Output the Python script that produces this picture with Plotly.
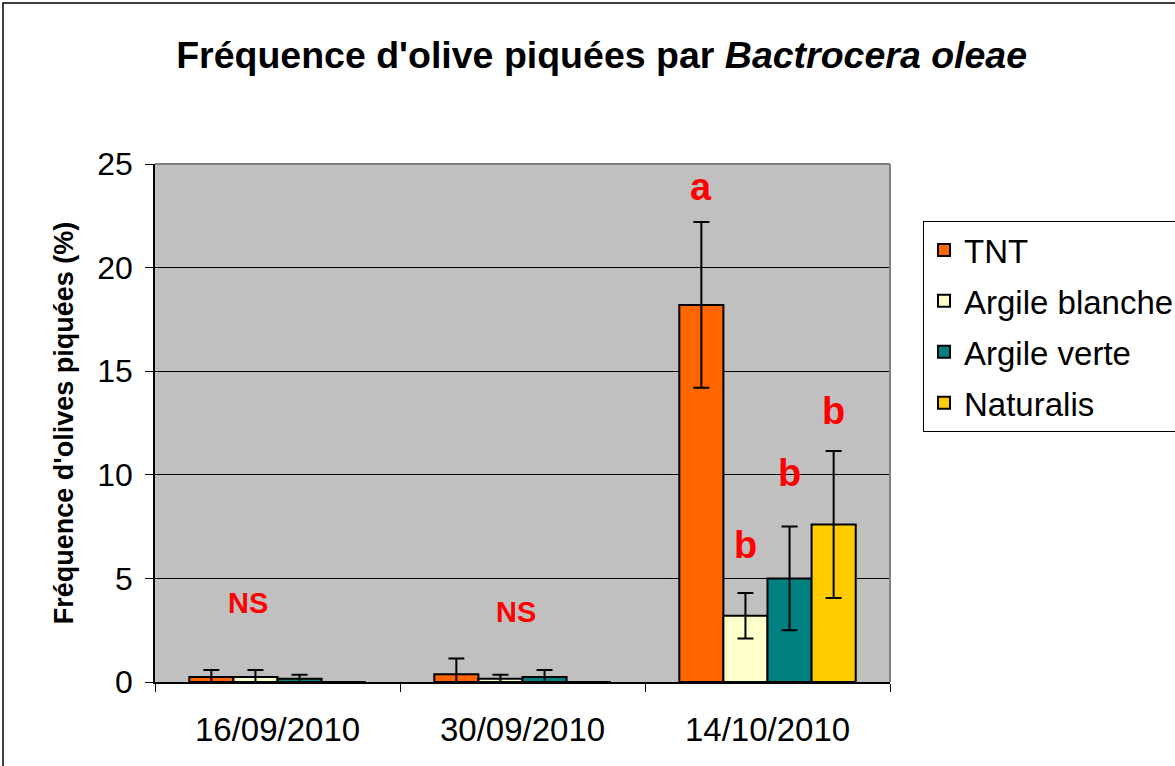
import plotly.graph_objects as go

dates = ["16/09/2010", "30/09/2010", "14/10/2010"]
series_names = ["TNT", "Argile blanche", "Argile verte", "Naturalis"]
tnt = [0.24, 0.37, 18.2]
tnt_err = [0.34, 0.77, 4.0]
blanche = [0.24, 0.16, 3.2]
blanche_err = [0.34, 0.19, 1.1]
verte = [0.16, 0.24, 5.0]
verte_err = [0.19, 0.34, 2.5]
naturalis = [0.0, 0.0, 7.6]
naturalis_err = [0.0, 0.0, 3.55]
colors = ["#FF6600", "#FFFFCC", "#008080", "#FFCC00"]

values = [tnt, blanche, verte, naturalis]
errors = [tnt_err, blanche_err, verte_err, naturalis_err]

# significance labels: (group index, offset within group, y value, text, size)
sig_labels = [
    (0, -0.12, 3.8, "NS", 29),
    (1, -0.025, 3.4, "NS", 29),
    (2, -0.27, 23.9, "a", 38),
    (2, -0.09, 6.6, "b", 38),
    (2, 0.09, 10.1, "b", 38),
    (2, 0.27, 13.1, "b", 38),
]

fig = go.Figure()
for name, vals, errs, col in zip(series_names, values, errors, colors):
    fig.add_trace(go.Bar(
        name=name, x=dates, y=vals, legendgroup=name,
        marker=dict(color=col, line=dict(color="black", width=2)),
        error_y=dict(type="data", array=errs, visible=True, color="black", thickness=2, width=8),
    ))

annotations = []
for gi, off, yv, txt, sz in sig_labels:
    annotations.append(dict(
        x=gi + off, y=yv, xref="x", yref="y", text="<b>%s</b>" % txt, showarrow=False,
        font=dict(family="Arial, Liberation Sans", size=sz, color="#FF0000"),
        xanchor="center", yanchor="middle",
    ))

fig.update_layout(
    width=1175, height=766,
    margin=dict(l=155, r=285, t=164, b=84, autoexpand=False),
    paper_bgcolor="white", plot_bgcolor="#C0C0C0",
    barmode="group", bargap=0.28, bargroupgap=0,
    font=dict(family="Arial, Liberation Sans", color="black"),
    title=dict(
        text="<b>Fréquence d'olive piquées par <i>Bactrocera oleae</i></b>",
        x=0.512, xref="container", xanchor="center",
        y=1 - 55 / 766, yref="container", yanchor="middle",
        font=dict(size=37.5, family="Arial, Liberation Sans", color="black"),
    ),
    xaxis=dict(
        type="category", showline=True, linecolor="black", linewidth=1.5,
        ticks="outside", tickson="boundaries", ticklen=8, tickcolor="black",
        tickfont=dict(size=33), showgrid=False, ticklabelstandoff=18,
    ),
    yaxis=dict(
        range=[0, 25], dtick=5, showline=True, linecolor="black", linewidth=1.5,
        ticks="outside", ticklen=8, tickcolor="black", tickfont=dict(size=32),
        showgrid=True, gridcolor="black", gridwidth=1, zeroline=False,
        ticklabelstandoff=6,
        title=dict(text="<b>Fréquence d'olives piquées (%)</b>", font=dict(size=27), standoff=16),
    ),
    legend=dict(
        x=(923 - 155) / 735, xanchor="left", y=(682 - 221) / 518, yanchor="top",
        bgcolor="white", bordercolor="black", borderwidth=1,
        font=dict(size=33), itemclick=False, tracegroupgap=5,
    ),
    annotations=annotations,
    shapes=[
        dict(type="line", xref="paper", yref="paper", x0=0, x1=1, y0=1, y1=1,
             line=dict(color="#808080", width=2)),
        dict(type="line", xref="paper", yref="paper", x0=1, x1=1, y0=0, y1=1,
             line=dict(color="#808080", width=2)),
        dict(type="rect", xref="paper", yref="paper", x0=(3 - 155) / 735, x1=2,
             y0=-1, y1=(682 - 3) / 518, line=dict(color="black", width=1.5)),
    ],
)

fig.write_html("out.html", config={"displayModeBar": False},
               post_script="document.body.style.margin='0';")
